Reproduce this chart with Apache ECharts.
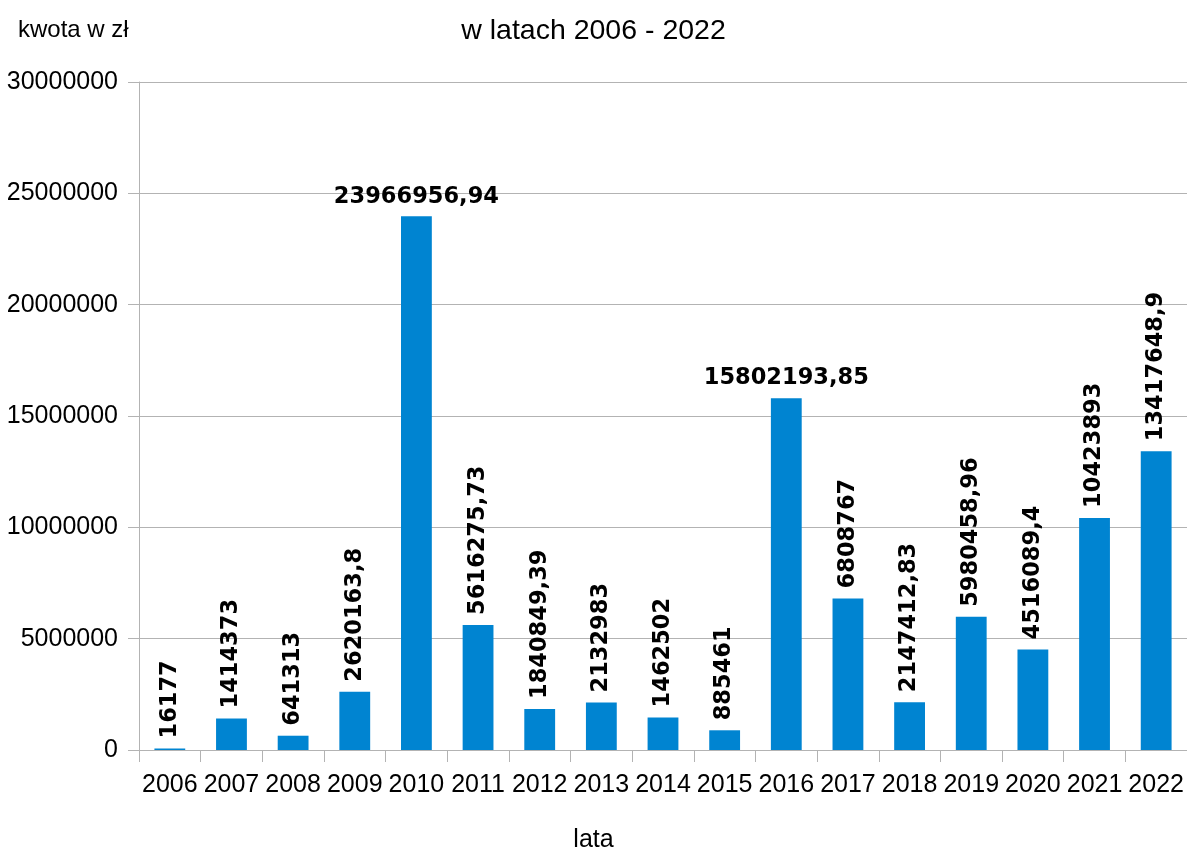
<!DOCTYPE html>
<html>
<head>
<meta charset="utf-8">
<script src="https://cdn.jsdelivr.net/npm/echarts@6/dist/echarts.min.js"></script>
<style>
html,body{margin:0;padding:0;background:#fff;}
#chart{width:1187px;height:853px;}
</style>
</head>
<body>
<div id="chart"></div>
<script>
const categories = ['2006','2007','2008','2009','2010','2011','2012','2013','2014','2015','2016','2017','2018','2019','2020','2021','2022'];
const amounts = [16177, 1414373, 641313, 2620163.8, 23966956.94, 5616275.73, 1840849.39, 2132983, 1462502, 885461, 15802193.85, 6808767, 2147412.83, 5980458.96, 4516089.4, 10423893, 13417648.9];
const yTicks = [0, 5000000, 10000000, 15000000, 20000000, 25000000, 30000000];
const chartTitle = 'w latach 2006 - 2022';
const yAxisTitle = 'kwota w zł';
const xAxisTitle = 'lata';

const horizontalLabelCats = ['2010', '2016'];
const FONT = 'Liberation Sans, Arial, sans-serif';
const GRID = '#b3b3b3';

const seriesData = amounts.map((v, i) => {
  const item = { value: v };
  if (horizontalLabelCats.includes(categories[i])) {
    item.label = { rotate: 0, align: 'center', verticalAlign: 'bottom', distance: 8 };
  }
  return item;
});

const chart = echarts.init(document.getElementById('chart'));
chart.setOption({
  animation: false,
  backgroundColor: '#fff',
  title: [
    { text: chartTitle, left: 'center', top: 12, textStyle: { fontFamily: FONT, fontSize: 28.5, fontWeight: 'normal', color: '#000' } },
    { text: yAxisTitle, left: 13, top: 13, textStyle: { fontFamily: FONT, fontSize: 24, fontWeight: 'normal', color: '#000' } },
    { text: xAxisTitle, left: 'center', top: 823, textStyle: { fontFamily: FONT, fontSize: 25, fontWeight: 'normal', color: '#000' } }
  ],
  grid: { left: 139, right: 0, top: 82, bottom: 103, containLabel: false },
  xAxis: {
    type: 'category',
    data: categories,
    axisLine: { show: true, lineStyle: { color: GRID, width: 1 } },
    axisTick: { show: true, length: 12, lineStyle: { color: GRID } },
    axisLabel: { fontFamily: FONT, fontSize: 25, color: '#000', margin: 23, interval: 0 },
    splitLine: { show: false }
  },
  yAxis: {
    type: 'value',
    min: yTicks[0],
    max: yTicks[yTicks.length - 1],
    interval: yTicks[1] - yTicks[0],
    axisLine: { show: true, lineStyle: { color: GRID, width: 1 } },
    axisTick: { show: true, length: 11, lineStyle: { color: GRID } },
    axisLabel: { fontFamily: FONT, fontSize: 25, color: '#000', margin: 21, formatter: v => String(v) },
    splitLine: { show: true, lineStyle: { color: GRID, width: 1 } }
  },
  series: [{
    type: 'bar',
    data: seriesData,
    barWidth: '50%',
    barMinHeight: 1.5,
    itemStyle: { color: '#0084d1' },
    label: {
      show: true,
      position: 'top',
      rotate: 90,
      align: 'left',
      verticalAlign: 'middle',
      distance: 10,
      fontFamily: 'DejaVu Sans, sans-serif',
      fontWeight: 'bold',
      fontSize: 22.5,
      color: '#000',
      formatter: p => String(p.value).replace('.', ',')
    }
  }]
});
</script>
</body>
</html>
